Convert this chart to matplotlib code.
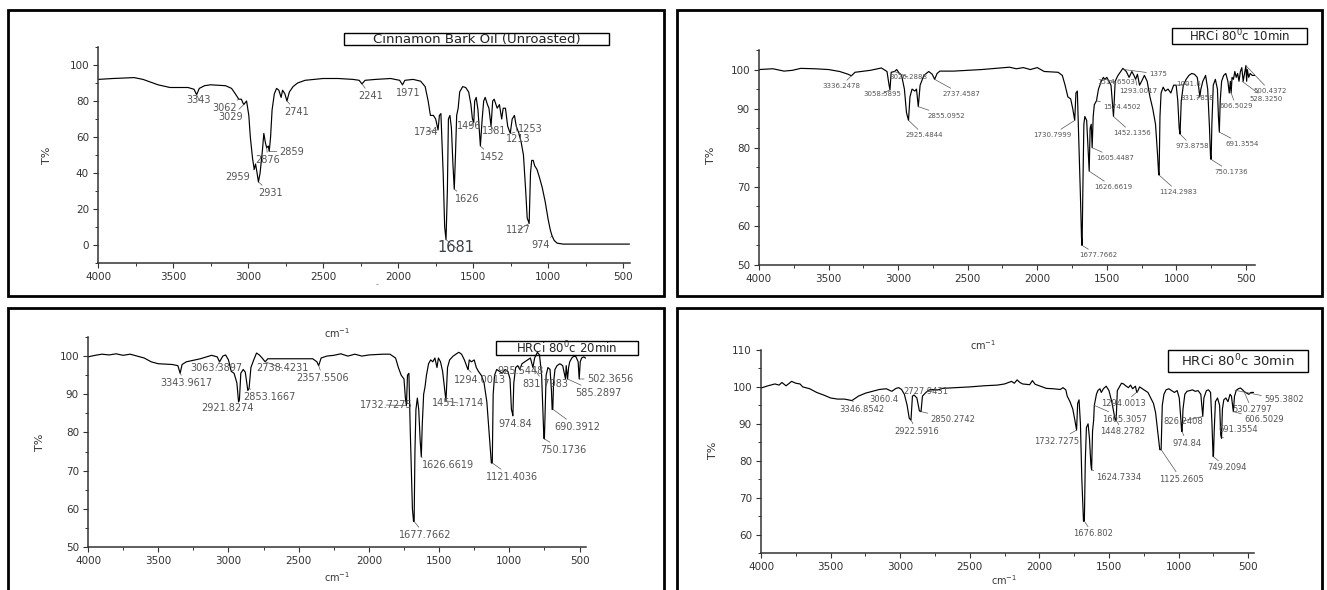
import matplotlib
matplotlib.use("Agg")
import matplotlib.pyplot as plt
from matplotlib.patches import Rectangle
from matplotlib.ticker import MultipleLocator

W, H = 1327, 590

# ---- spectra: (wavenumber cm-1, %T) ----
cinnamon_pts = [
    (4000, 92), (3900, 92.5), (3760, 93), (3700, 92), (3600, 89), (3520, 87.5), (3400, 87.5),
    (3360, 86.5), (3343, 83.5), (3325, 87), (3290, 88.5), (3250, 89), (3150, 88.5), (3110, 87),
    (3085, 84), (3062, 81), (3045, 81), (3029, 78), (3010, 80), (2995, 72), (2985, 60), (2970, 48),
    (2959, 42), (2950, 45), (2940, 40), (2931, 35), (2920, 40), (2905, 52), (2895, 62), (2885, 57),
    (2876, 54), (2865, 55), (2859, 52), (2850, 60), (2840, 75), (2825, 84), (2810, 87), (2795, 86),
    (2780, 82), (2770, 86), (2755, 84), (2741, 80), (2725, 85), (2700, 88), (2670, 90), (2620, 91.5),
    (2500, 92.5), (2400, 92.5), (2300, 92), (2260, 91.5), (2241, 89.5), (2220, 91.5), (2150, 92),
    (2050, 92.5), (1990, 91.5), (1971, 89), (1955, 91.5), (1900, 92), (1850, 91), (1820, 88),
    (1800, 80), (1785, 72), (1765, 72), (1750, 70), (1734, 64), (1725, 72), (1715, 73), (1700, 40),
    (1690, 10), (1681, 3), (1672, 30), (1665, 70), (1655, 72), (1645, 65), (1635, 45), (1626, 31),
    (1618, 50), (1610, 72), (1600, 76), (1590, 85), (1570, 88), (1550, 87.5), (1530, 85), (1515, 78),
    (1505, 70), (1496, 68), (1490, 80), (1480, 82), (1468, 75), (1452, 55), (1440, 70), (1430, 80),
    (1420, 82), (1405, 78), (1395, 76), (1381, 66), (1370, 80), (1360, 81), (1340, 76), (1325, 78),
    (1310, 70), (1300, 76), (1285, 76), (1270, 66), (1253, 62), (1240, 70), (1225, 72), (1213, 66),
    (1195, 62), (1180, 57), (1165, 50), (1150, 30), (1140, 15), (1127, 12), (1118, 40), (1110, 47),
    (1100, 47), (1090, 44), (1075, 42), (1060, 38), (1040, 32), (1020, 24), (1000, 14), (985, 8),
    (974, 5), (960, 2.5), (940, 1), (900, 0.5), (700, 0.5), (460, 0.5),
]

min10_pts = [
    (4000, 100), (3950, 100.1), (3900, 100.2), (3820, 99.6), (3760, 99.8), (3700, 100.3), (3600, 100.2),
    (3500, 100), (3420, 99.5), (3360, 98.8), (3336, 98.4), (3310, 99.3), (3200, 99.8), (3120, 100.4),
    (3080, 99.5), (3065, 96), (3058.6, 94.8), (3050, 99.3), (3026, 99.5), (3010, 100), (2995, 99.2),
    (2975, 98.5), (2955, 95), (2940, 89), (2925.5, 87), (2915, 93), (2900, 95), (2880, 94.5),
    (2868, 95), (2855.1, 90.5), (2842, 96), (2815, 98.5), (2780, 99.5), (2755, 98.8), (2737.5, 97.5),
    (2720, 99), (2700, 99.6), (2600, 99.6), (2500, 99.8), (2400, 100), (2300, 100.3), (2200, 100.6),
    (2150, 100.2), (2100, 100.5), (2050, 100), (2000, 100.5), (1950, 99.5), (1900, 99.4), (1850, 99.3),
    (1820, 98.5), (1800, 96), (1780, 93), (1760, 92.5), (1745, 90), (1730.8, 87), (1722, 94),
    (1712, 94.5), (1700, 80), (1690, 68), (1682, 57), (1677.8, 55), (1672, 70), (1665, 86), (1658, 88),
    (1645, 87), (1635, 80), (1626.7, 74), (1620, 85), (1612, 86), (1605.4, 80), (1598, 88), (1590, 91),
    (1574.5, 92), (1560, 95), (1540, 97), (1525, 98), (1514.7, 97.5), (1500, 98), (1485, 97),
    (1470, 96), (1452.1, 88), (1440, 97), (1420, 98.5), (1400, 99.5), (1385, 100.3), (1375, 100),
    (1360, 99.5), (1340, 98), (1320, 99.5), (1305, 98.5), (1293, 97.5), (1280, 98.8), (1265, 96),
    (1250, 97), (1230, 98.5), (1210, 97), (1190, 93), (1170, 90), (1150, 86), (1135, 78),
    (1128, 73.5), (1124.3, 73), (1118, 88), (1110, 94), (1095, 95.5), (1080, 94.5), (1060, 95),
    (1040, 94), (1020, 96), (1001.6, 96), (990, 92), (980, 85), (973.9, 83.5), (965, 92), (950, 96),
    (930, 97.5), (910, 98.5), (890, 99), (870, 98.8), (850, 98), (838, 95), (831.8, 93), (824, 95),
    (810, 97), (790, 98.5), (775, 95), (762, 85), (755, 78), (750.2, 77), (745, 86), (735, 96),
    (720, 97.5), (705, 95), (698, 88), (691.4, 84), (685, 92), (675, 97), (660, 98.5), (645, 99),
    (630, 97), (620, 94), (612, 97), (606.5, 94), (600, 98), (590, 97.5), (580, 99.5), (570, 98),
    (560, 99), (550, 97), (540, 99.5), (530, 100.5), (520, 97), (510, 99), (500.4, 101), (495, 97),
    (490, 100), (480, 98), (470, 99), (455, 98.5), (438, 98.5),
]

min20_pts = [
    (4000, 99.8), (3950, 100.2), (3900, 100.5), (3850, 100.3), (3800, 100.6), (3750, 100.2),
    (3700, 100.5), (3650, 100), (3600, 99.5), (3550, 98.5), (3500, 98), (3400, 97.8), (3360, 97.5),
    (3344, 95.5), (3330, 97.8), (3300, 98.5), (3200, 99.3), (3120, 100.2), (3080, 99.8), (3063.4, 98.5),
    (3040, 100), (3020, 100.3), (3000, 99), (2980, 96), (2960, 95.5), (2940, 93), (2928, 88),
    (2921.8, 88.5), (2912, 95.5), (2895, 96.5), (2880, 95.8), (2862, 91), (2853.2, 91.5), (2840, 97),
    (2820, 99), (2800, 100.8), (2780, 100.3), (2760, 99.5), (2738.4, 98.5), (2720, 99.3), (2600, 99.3),
    (2500, 99.3), (2400, 99.3), (2370, 98.5), (2357.6, 97.5), (2340, 99.5), (2300, 100), (2250, 100.2),
    (2200, 100.6), (2150, 100), (2100, 100.5), (2050, 100), (2000, 100.3), (1950, 100.4), (1900, 100.5),
    (1850, 100.5), (1810, 99.5), (1790, 97), (1770, 95), (1750, 94), (1740, 89), (1732.7, 87),
    (1725, 95), (1715, 95.5), (1705, 80), (1690, 60), (1682, 56.7), (1677.8, 56.7), (1672, 75),
    (1665, 86), (1655, 89), (1645, 86), (1635, 78), (1626.7, 73.6), (1620, 82), (1610, 90), (1600, 92),
    (1590, 95), (1575, 98), (1560, 99), (1545, 98.5), (1530, 99.5), (1515, 97), (1505, 99.5),
    (1490, 98.5), (1475, 96), (1460, 91), (1451.2, 88.3), (1440, 97), (1425, 99), (1400, 100),
    (1380, 100.5), (1360, 101), (1340, 100.5), (1320, 99), (1300, 97), (1294, 96.5), (1285, 99),
    (1270, 98.5), (1250, 99), (1235, 97), (1220, 96), (1200, 95), (1180, 93), (1160, 88), (1140, 78),
    (1128, 72), (1121.4, 72), (1115, 90), (1105, 95), (1090, 96.5), (1070, 96), (1050, 95.5),
    (1030, 96.5), (1010, 96), (995, 94), (985, 86), (978, 85), (974.8, 84.4), (968, 93), (955, 97),
    (940, 97.5), (925.5, 96.5), (910, 98), (890, 98.5), (870, 99), (850, 99.5), (831.8, 97), (820, 99.5),
    (800, 101), (785, 100.3), (770, 95), (760, 85), (754, 78.5), (750.2, 78.3), (745, 85), (738, 95),
    (725, 97), (710, 96.5), (700, 91), (695, 86), (690.4, 86.1), (685, 93), (675, 96.5), (660, 97.5),
    (640, 98), (620, 97.5), (600, 94), (595, 97.5), (585.3, 94), (578, 97), (570, 98.5), (555, 99.5),
    (540, 100), (525, 99.8), (510, 98.5), (502.4, 94), (495, 98.5), (485, 99.5), (470, 99.8), (458, 99.5),
]

min30_pts = [
    (4000, 99.7), (3950, 100.3), (3900, 100.8), (3870, 100.5), (3850, 101.2), (3820, 100.3),
    (3780, 101.5), (3750, 101), (3720, 100.8), (3700, 100), (3650, 99.5), (3600, 98.5), (3550, 97.8),
    (3500, 97), (3450, 96.7), (3400, 96.7), (3346.9, 96.3), (3300, 97.5), (3250, 98.3), (3200, 98.8),
    (3150, 99.3), (3100, 99.5), (3060.4, 98.8), (3030, 99.6), (3010, 99.8), (2990, 99.3), (2970, 98),
    (2950, 95), (2935, 91.5), (2922.6, 91), (2912, 97.5), (2900, 97.8), (2880, 97), (2862, 93.5),
    (2850.3, 93.3), (2840, 97.5), (2820, 98.3), (2800, 99), (2780, 99.3), (2727.9, 99.2), (2700, 99.6),
    (2600, 99.8), (2500, 100), (2400, 100.3), (2300, 100.5), (2250, 100.8), (2200, 101.5), (2180, 101),
    (2160, 101.9), (2140, 101.2), (2120, 100.8), (2070, 100.6), (2050, 101.7), (2030, 100.7),
    (2000, 100.3), (1950, 99.6), (1900, 99.5), (1850, 99.3), (1830, 99.8), (1810, 99.2), (1800, 97.5),
    (1780, 96), (1760, 94), (1745, 91), (1732.7, 88.3), (1725, 95.5), (1715, 96.5), (1705, 90),
    (1695, 75), (1683, 63.6), (1676.8, 63.6), (1670, 80), (1662, 89), (1650, 90), (1640, 86),
    (1630, 79), (1624.7, 77.5), (1618, 88), (1610, 91), (1605.3, 95), (1590, 98), (1580, 99),
    (1565, 99.5), (1555, 98.5), (1540, 99.5), (1520, 100.2), (1500, 99), (1480, 96), (1465, 93),
    (1455, 91), (1448.3, 91), (1440, 99), (1425, 100), (1410, 101), (1395, 100.8), (1380, 100.3),
    (1360, 99.8), (1345, 100.5), (1330, 99.5), (1310, 100.2), (1300, 98.5), (1294, 98.8), (1280, 100),
    (1260, 99.5), (1240, 99), (1220, 98.5), (1200, 97), (1180, 95.5), (1165, 93), (1150, 88),
    (1135, 83), (1125.3, 83), (1117, 95), (1105, 98), (1090, 99.2), (1070, 99.5), (1050, 99),
    (1030, 98.5), (1010, 99), (995, 97), (985, 92), (978, 88), (974.8, 87.9), (968, 94), (955, 98),
    (940, 98.8), (920, 99), (900, 99.2), (880, 98.8), (860, 99), (840, 98), (826.2, 92), (818, 97),
    (800, 99), (785, 99.2), (770, 98.5), (760, 90), (752, 81.2), (749.2, 81.1), (744, 88), (735, 96),
    (720, 97), (705, 95), (697, 87), (691.4, 86.1), (685, 94), (675, 96.5), (660, 97), (645, 96),
    (630, 98), (620, 97.5), (606.5, 93.3), (598, 97.5), (585, 99.1), (570, 99.5), (555, 99.7),
    (540, 99.2), (530, 98.8), (510, 98.3), (495, 98), (480, 98.5), (462, 98.5),
]

# ---- peak labels: text, %T at the peak, label centre in figure pixels (from top-left) ----
cin_labels = ["3343", "3062", "3029", "2959", "2931", "2876", "2859", "2741", "2241", "1971",
              "1734", "1681", "1626", "1496", "1452", "1381", "1253", "1213", "1127", "974"]
cin_peak_t = [83.5, 81, 78, 42, 35, 54, 52, 80, 89.5, 89, 64, 3, 31, 68, 55, 66, 62, 66, 12, 5]
cin_label_px = [(199, 100), (225, 108), (231, 117), (238, 177), (271, 193), (268, 160), (292, 152),
                (297, 112), (371, 96), (408, 93), (426, 132), (456, 248), (467, 199), (469, 126),
                (492, 157), (494, 131), (530, 129), (518, 139), (518, 230), (541, 245)]

m10_labels = ["3336.2478", "3058.5895", "3026.2888", "2925.4844", "2855.0952", "2737.4587",
              "1730.7999", "1677.7662", "1626.6619", "1605.4487", "1574.4502", "1514.6503",
              "1452.1356", "1375", "1293.0017", "1124.2983", "973.8758", "1001.6", "831.7858",
              "750.1736", "691.3554", "606.5029", "528.3250", "500.4372"]
m10_peak_t = [98.4, 94.8, 99.5, 87, 90.5, 97.5, 87, 55, 74, 80, 92, 97.5, 88, 100, 97.5, 73,
              83.5, 96, 93, 77, 84, 94, 97, 101]
m10_label_px = [(841, 86), (882, 94), (908, 77), (924, 135), (946, 116), (961, 94), (1052, 135),
                (1098, 255), (1113, 187), (1115, 158), (1122, 107), (1116, 82), (1132, 133),
                (1158, 74), (1138, 91), (1178, 192), (1192, 146), (1189, 84), (1197, 98),
                (1231, 172), (1242, 144), (1236, 106), (1266, 99), (1270, 91)]

m20_labels = ["3343.9617", "3063.3897", "2738.4231", "2921.8274", "2853.1667", "2357.5506",
              "1732.7275", "1677.7662", "1626.6619", "1451.1714", "1294.0013", "1121.4036",
              "974.84", "925.5448", "831.7983", "750.1736", "690.3912", "585.2897", "502.3656"]
m20_peak_t = [95.5, 98.5, 98.5, 88.5, 91.5, 97.5, 87, 56.7, 73.6, 88.3, 96.5, 72, 84.4, 96.5,
              97, 78.3, 86.1, 94, 94]
m20_label_px = [(186, 383), (216, 368), (282, 368), (228, 408), (269, 397), (323, 378), (386, 405),
                (425, 535), (448, 465), (458, 403), (480, 380), (512, 477), (515, 424), (521, 371),
                (545, 384), (563, 450), (577, 427), (598, 393), (610, 379)]

m30_labels = ["3346.8542", "3060.4", "2727.9431", "2922.5916", "2850.2742", "1732.7275",
              "1676.802", "1624.7334", "1605.3057", "1448.2782", "1294.0013", "1125.2605",
              "974.84", "826.2408", "749.2094", "691.3554", "606.5029", "530.2797", "595.3802"]
m30_peak_t = [96.3, 98.8, 99.2, 91, 93.3, 88.3, 63.6, 77.5, 95, 91, 98.8, 83, 87.9, 92, 81.1,
              86.1, 93.3, 98.8, 99.1]
m30_label_px = [(862, 409), (884, 399), (926, 392), (917, 431), (953, 419), (1057, 441),
                (1093, 534), (1119, 477), (1125, 419), (1123, 432), (1123, 404), (1181, 479),
                (1187, 443), (1183, 421), (1227, 468), (1238, 430), (1264, 420), (1252, 410),
                (1284, 400)]


def px_box(x0, y0, x1, y1):
    return [x0 / W, 1 - y1 / H, (x1 - x0) / W, (y1 - y0) / H]


def frame(x0, y0, x1, y1, lw=2.0):
    b = px_box(x0, y0, x1, y1)
    fig.add_artist(Rectangle((b[0], b[1]), b[2], b[3], transform=fig.transFigure,
                             fill=False, ec="black", lw=lw))


def ftext(x, y, s, **kw):
    fig.text(x / W, 1 - y / H, s, ha="center", va="center", **kw)


def panel(axbox, pts, xlim, ylim, ymajor, yminor):
    ax = fig.add_axes(px_box(*axbox))
    wn, t = zip(*pts)
    ax.plot(wn, t, color="black", lw=0.85)
    ax.set_xlim(*xlim)
    ax.set_ylim(*ylim)
    ax.xaxis.set_major_locator(MultipleLocator(500))
    ax.xaxis.set_minor_locator(MultipleLocator(250))
    ax.yaxis.set_major_locator(MultipleLocator(ymajor))
    ax.yaxis.set_minor_locator(MultipleLocator(yminor))
    for s in ("top", "right"):
        ax.spines[s].set_visible(False)
    for s in ("left", "bottom"):
        ax.spines[s].set_color("#333333")
        ax.spines[s].set_linewidth(1.1)
    ax.tick_params(which="major", direction="out", length=3.5, width=0.8, colors="#333333",
                   labelsize=7.5, pad=3)
    ax.tick_params(which="minor", direction="out", length=2, width=0.7, colors="#333333")
    ax.patch.set_alpha(0)
    return ax


def peaks(ax, labels, peak_t, label_px, size, big=None):
    for text, y, (lx, ly) in zip(labels, peak_t, label_px):
        fs, col = size, "#555555"
        if text == big:
            fs, col = 10.5, "#3a4050"
        ax.annotate(text, xy=(float(text), y), xytext=(lx, H - ly), textcoords="figure pixels",
                    ha="center", va="center", fontsize=fs, color=col, annotation_clip=False,
                    arrowprops=dict(arrowstyle="-", color="#555555", lw=0.5,
                                    shrinkA=0, shrinkB=0))


def title_box(x0, y0, x1, y1, text, size):
    frame(x0, y0, x1, y1, lw=1.0)
    ftext((x0 + x1) / 2, (y0 + y1) / 2, text, fontsize=size, color="#222222")


fig = plt.figure(figsize=(W / 100, H / 100), dpi=100)
fig.patch.set_facecolor("white")

# outer frames
frame(8, 10, 664, 296)
frame(677, 10, 1322, 296)
frame(8, 308, 664, 593)
frame(677, 308, 1322, 593)

# top left: cinnamon bark oil
ax1 = panel((98, 47, 630, 263), cinnamon_pts, (4000, 455), (-10, 110), 20, 10)
peaks(ax1, cin_labels, cin_peak_t, cin_label_px, 7, big="1681")
title_box(344, 33, 609, 45, "Cinnamon Bark Oil (Unroasted)", 9.5)
ftext(47, 155, "T%", fontsize=8, rotation=90, color="#333333")
ftext(377, 285, "-", fontsize=6, color="#888888")

# top right: 10 min
ax2 = panel((759, 50, 1255, 265), min10_pts, (4000, 435), (50, 105), 10, 5)
peaks(ax2, m10_labels, m10_peak_t, m10_label_px, 5)
title_box(1172, 28, 1307, 44, r"HRCi 80$^{0}$c 10min", 8.5)
ftext(711, 155, "T%", fontsize=8, rotation=90, color="#333333")

# bottom left: 20 min
ax3 = panel((88, 337, 586, 547), min20_pts, (4000, 454), (50, 105), 10, 5)
peaks(ax3, m20_labels, m20_peak_t, m20_label_px, 7)
title_box(496, 341, 638, 355, r"HRCi 80$^{0}$c 20min", 8.5)
ftext(40, 442, "T%", fontsize=8, rotation=90, color="#333333")
ftext(337, 333, r"cm$^{-1}$", fontsize=7, color="#333333")
ftext(337, 577, r"cm$^{-1}$", fontsize=7, color="#333333")

# bottom right: 30 min
ax4 = panel((761, 350, 1254, 553), min30_pts, (4000, 458), (55, 110), 10, 5)
peaks(ax4, m30_labels, m30_peak_t, m30_label_px, 6)
title_box(1168, 350, 1308, 372, r"HRCi 80$^{0}$c 30min", 9.5)
ftext(713, 450, "T%", fontsize=8, rotation=90, color="#333333")
ftext(983, 345, r"cm$^{-1}$", fontsize=7, color="#333333")
ftext(1004, 580, r"cm$^{-1}$", fontsize=7, color="#333333")

fig.savefig("out.png", dpi=100)
